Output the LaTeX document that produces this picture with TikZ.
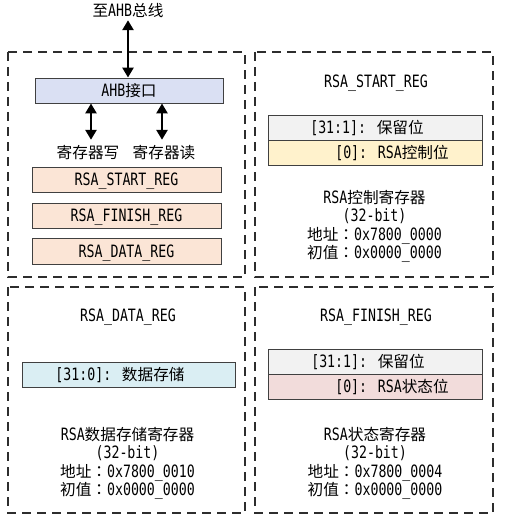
\documentclass[tikz,border=0pt]{standalone}
\usepackage{fontspec}
\setmainfont{DejaVu Sans Mono}[FakeStretch=0.78]
\newfontfamily\cjkfont{Noto Sans CJK SC}[Scale=0.92]
\newfontfamily\cjkjpfont{Noto Sans CJK JP}[Scale=0.92]
\newcommand\zhc[1]{{\cjkfont #1}}
\newcommand\fcolon{{\cjkjpfont ：}}
\usetikzlibrary{arrows.meta}
\definecolor{cahb}{RGB}{218,224,243}
\definecolor{cpeach}{RGB}{251,229,214}
\definecolor{cgray}{RGB}{242,242,242}
\definecolor{cyellow}{RGB}{255,242,204}
\definecolor{cblue}{RGB}{218,238,243}
\definecolor{cpink}{RGB}{242,220,219}
\definecolor{cborder}{RGB}{64,64,64}
\definecolor{cdash}{RGB}{45,45,45}
\begin{document}
\begin{tikzpicture}[x=1pt,y=-1pt,
  every node/.style={font=\fontsize{17}{18}\selectfont},
  txt/.style={inner sep=0pt,text height=12pt,text depth=0pt},
  boxbase/.style={draw=cborder,line width=0.9pt,inner sep=0pt,text height=12pt,text depth=0pt},
  ahbbox/.style={boxbase,fill=cahb,minimum width=188pt,minimum height=25pt},
  regbox/.style={boxbase,fill=cpeach,minimum width=189pt,minimum height=25pt},
  rowbox/.style={boxbase,minimum width=214pt,minimum height=25pt},
  panel/.style={draw=cdash,line width=1.2pt,dash pattern=on 9pt off 6pt},
  biarr/.style={{Triangle[width=11pt,length=10pt]}-{Triangle[width=11pt,length=10pt]},line width=2.6pt}
]
\useasboundingbox (0,0) rectangle (504,516);

% panels
\draw[panel] (8,52) rectangle (245,277);
\draw[panel] (255,52) rectangle (493,277);
\draw[panel] (8,287) rectangle (245,513);
\draw[panel] (255,287) rectangle (493,513);

% top-left: bus interface
\node[txt] (bus) at (128,11) {\zhc{至}AHB\zhc{总线}};
\node[ahbbox] (ahb) at (129,90.5) {AHB\zhc{接口}};
\node[txt] (wr) at (88,152) {\zhc{寄存器写}};
\node[txt] (rd) at (164,152) {\zhc{寄存器读}};
\coordinate (wx) at (91,0);
\coordinate (rx) at (162,0);
\coordinate (bx) at (128,0);
\draw[biarr,shorten <=3pt] (bus.south -| bx) -- (ahb.north -| bx);
\draw[biarr,shorten >=6pt] (ahb.south -| wx) -- (wr.north -| wx);
\draw[biarr,shorten >=6pt] (ahb.south -| rx) -- (rd.north -| rx);
\node[regbox] (reg1) at (126.5,179.5) {RSA\_START\_REG};
\node[regbox] (reg2) at (126.5,215.5) {RSA\_FINISH\_REG};
\node[regbox,minimum height=26pt] (reg3) at (126.5,251) {RSA\_DATA\_REG};

% top-right: RSA_START_REG
\node[txt] (st) at (376,82) {RSA\_START\_REG};
\node[rowbox,fill=cgray] (s1) at (375,127.5) {};
\node[rowbox,fill=cyellow] (s0) at (375,152.5) {};
\node[txt] (s1t) at (367,127.5) {[31:1]: \zhc{保留位}};
\node[txt] (s0t) at (392,152.5) {[0]: RSA\zhc{控制位}};
\node[txt] (sd1) at (374.5,197) {RSA\zhc{控制寄存器}};
\node[txt] (sd2) at (374.5,215.5) {(32-bit)};
\node[txt] (sd3) at (374.5,234) {\zhc{地址}\fcolon 0x7800\_0000};
\node[txt] (sd4) at (374.5,252.5) {\zhc{初值}\fcolon 0x0000\_0000};

% bottom-left: RSA_DATA_REG
\node[txt] (dt) at (128,315) {RSA\_DATA\_REG};
\node[rowbox,fill=cblue,minimum width=213pt] (d0) at (128.5,374.5) {};
\node[txt] (d0t) at (120,374.5) {[31:0]: \zhc{数据存储}};
\node[txt] (dd1) at (127.5,434) {RSA\zhc{数据存储寄存器}};
\node[txt] (dd2) at (127.5,452.5) {(32-bit)};
\node[txt] (dd3) at (127.5,471) {\zhc{地址}\fcolon 0x7800\_0010};
\node[txt] (dd4) at (127.5,489.5) {\zhc{初值}\fcolon 0x0000\_0000};

% bottom-right: RSA_FINISH_REG
\node[txt] (ft) at (376,315) {RSA\_FINISH\_REG};
\node[rowbox,fill=cgray] (f1) at (375,361.5) {};
\node[rowbox,fill=cpink] (f0) at (375,386.5) {};
\node[txt] (f1t) at (368,361.5) {[31:1]: \zhc{保留位}};
\node[txt] (f0t) at (392,386.5) {[0]: RSA\zhc{状态位}};
\node[txt] (fd1) at (375,434) {RSA\zhc{状态寄存器}};
\node[txt] (fd2) at (375,452.5) {(32-bit)};
\node[txt] (fd3) at (375,471) {\zhc{地址}\fcolon 0x7800\_0004};
\node[txt] (fd4) at (375,489.5) {\zhc{初值}\fcolon 0x0000\_0000};
\end{tikzpicture}
\end{document}
